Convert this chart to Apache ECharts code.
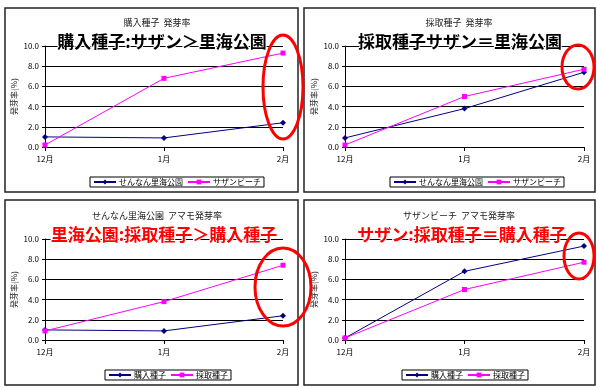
<!DOCTYPE html>
<html>
<head>
<meta charset="utf-8">
<script src="https://cdn.jsdelivr.net/npm/echarts@6/dist/echarts.min.js"></script>
<style>
  html, body { margin: 0; padding: 0; background: #fff; }
  #chart { width: 597px; height: 388px; }
</style>
</head>
<body>
<div id="chart"></div>
<script>
// 月
var months = ['12月', '1月', '2月']
// 発芽率 (軸 0.0〜10.0)
var satoumiBought = [1.0, 0.9, 2.4]
var sazanBought = [0.2, 6.8, 9.3]
var satoumiCollected = [0.9, 3.8, 7.4]
var sazanCollected = [0.2, 5.0, 7.7]

var panelTitles = ['購入種子  発芽率', '採取種子  発芽率', 'せんなん里海公園  アマモ発芽率', 'サザンビーチ  アマモ発芽率']
var notes = ['購入種子:サザン＞里海公園', '採取種子サザン＝里海公園', '里海公園:採取種子＞購入種子', 'サザン:採取種子＝購入種子']
var panelSeries = [
  [['せんなん里海公園', satoumiBought], ['サザンビーチ', sazanBought]],
  [['せんなん里海公園', satoumiCollected], ['サザンビーチ', sazanCollected]],
  [['購入種子', satoumiBought], ['採取種子', satoumiCollected]],
  [['購入種子', sazanBought], ['採取種子', sazanCollected]]
]

var FONT = '"Noto Sans CJK JP", "Liberation Sans", sans-serif'
var colors = ['#000080', '#ff00ff']
var symbols = ['diamond', 'rect']

// layout per panel
var frames = [[5, 8, 293, 184], [304, 8, 291, 184], [5, 200, 293, 185], [304, 200, 291, 185]]
var grids = [[45, 46, 238, 101], [345, 46, 239, 101], [45, 239, 238, 101], [345, 239, 239, 101]]
var titlePos = [[152, 13], [454, 13], [152, 206], [454, 206]]
var legendLeft = [[90, 177], [390, 177], [105, 370], [402, 370]]
var notePos = [[162, 42], [460, 42], [164, 235], [462, 235]]
var noteColors = ['#000', '#000', '#ff0000', '#ff0000']
var ellipses = [[283, 87, 20, 52], [578, 67, 16, 22], [283, 287, 28, 39], [579, 256, 15, 23]]

var chart = echarts.init(document.getElementById('chart'))

var option = {
  animation: false,
  color: colors,
  title: [],
  legend: [],
  grid: [],
  xAxis: [],
  yAxis: [],
  series: [],
  graphic: []
}

for (var i = 0; i < 4; i++) {
  var g = grids[i]
  option.grid.push({ left: g[0], top: g[1], width: g[2], height: g[3], containLabel: false })
  option.title.push({
    text: panelTitles[i],
    left: titlePos[i][0],
    top: titlePos[i][1],
    textAlign: 'center',
    textStyle: { fontFamily: FONT, fontSize: 9, fontWeight: 'normal', color: '#222' }
  })
  option.xAxis.push({
    type: 'category',
    gridIndex: i,
    data: months,
    boundaryGap: false,
    axisLine: { lineStyle: { color: '#000', width: 1 } },
    axisTick: { show: true, length: 4, lineStyle: { color: '#000' } },
    axisLabel: { fontFamily: FONT, fontSize: 8, color: '#000', margin: 8 },
    splitLine: { show: false }
  })
  option.yAxis.push({
    type: 'value',
    gridIndex: i,
    min: 0,
    max: 10,
    interval: 2,
    name: '発芽率(%)',
    nameLocation: 'middle',
    nameGap: 27,
    nameRotate: 90,
    nameTextStyle: { fontFamily: FONT, fontSize: 8, color: '#222' },
    axisLine: { show: true, lineStyle: { color: '#000', width: 1 } },
    axisTick: { show: true, length: 3, lineStyle: { color: '#000' } },
    axisLabel: {
      fontFamily: FONT, fontSize: 8, color: '#000', margin: 6,
      formatter: function (v) { return v.toFixed(1) }
    },
    splitLine: { show: true, lineStyle: { color: '#000', width: 1 } }
  })
  var names = []
  panelSeries[i].forEach(function (s, k) {
    names.push(s[0])
    option.series.push({
      name: s[0],
      type: 'line',
      xAxisIndex: i,
      yAxisIndex: i,
      data: s[1],
      symbol: symbols[k],
      symbolSize: k === 0 ? 6 : 5,
      color: colors[k],
      lineStyle: { color: colors[k], width: 1 },
      itemStyle: { color: colors[k] }
    })
  })
  option.legend.push({
    data: names,
    left: legendLeft[i][0],
    top: legendLeft[i][1],
    orient: 'horizontal',
    itemWidth: 22,
    itemHeight: 6,
    itemGap: 4,
    padding: [1, 3, 1, 3],
    borderColor: '#000',
    borderWidth: 1,
    borderRadius: 0,
    selectedMode: false,
    textStyle: { fontFamily: FONT, fontSize: 8, color: '#000', padding: [0, 0, 0, -2] }
  })
  // panel frame
  option.graphic.push({
    type: 'rect',
    shape: { x: frames[i][0], y: frames[i][1], width: frames[i][2], height: frames[i][3] },
    style: { fill: null, stroke: '#222', lineWidth: 1.5 },
    z: 1
  })
}

for (var j = 0; j < 4; j++) {
  option.graphic.push({
    type: 'text',
    x: notePos[j][0],
    y: notePos[j][1],
    z: 50,
    style: {
      text: notes[j],
      fontFamily: FONT,
      fontSize: 17,
      fontWeight: 'bold',
      fill: noteColors[j],
      stroke: '#fff',
      lineWidth: 2,
      align: 'center',
      verticalAlign: 'middle'
    }
  })
  option.graphic.push({
    type: 'ellipse',
    z: 60,
    shape: { cx: ellipses[j][0], cy: ellipses[j][1], rx: ellipses[j][2], ry: ellipses[j][3] },
    style: { fill: null, stroke: '#ff0000', lineWidth: 3 }
  })
}

chart.setOption(option)
</script>
</body>
</html>
